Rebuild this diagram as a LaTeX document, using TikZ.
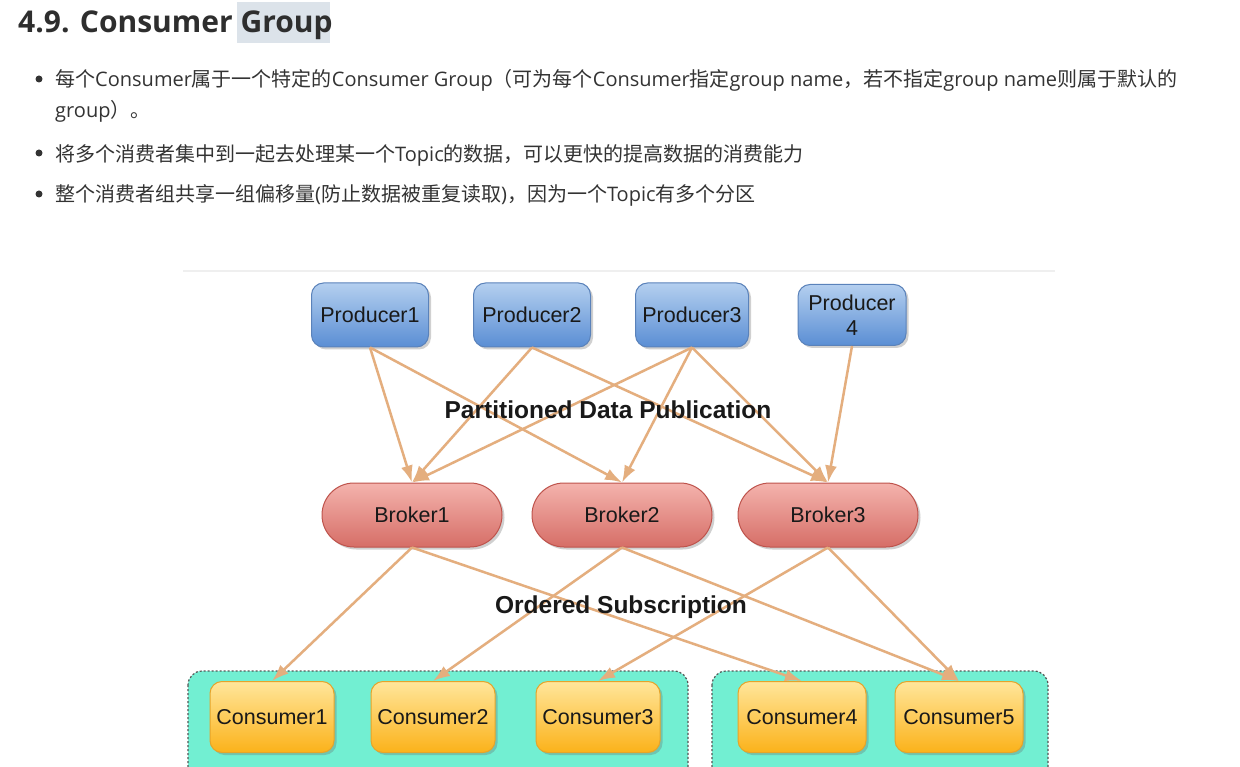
\documentclass[tikz,border=0pt]{standalone}
\usepackage{fontspec}
\setmainfont{Open Sans}
\newfontfamily\cjk{Noto Sans CJK SC}
\newfontfamily\arialf{Liberation Sans}
\usetikzlibrary{shadows,arrows.meta}
\definecolor{txt}{HTML}{333333}
\definecolor{titlec}{HTML}{2E2E2E}
\definecolor{hilite}{HTML}{DCE3EA}
\definecolor{rulec}{HTML}{EFEFEF}
\definecolor{prodtop}{HTML}{B4CFEF}
\definecolor{prodbot}{HTML}{5A8ED4}
\definecolor{prodborder}{HTML}{5A82BA}
\definecolor{brotop}{HTML}{F4B3AD}
\definecolor{brobot}{HTML}{D66E67}
\definecolor{broborder}{HTML}{BE534C}
\definecolor{contop}{HTML}{FFE69B}
\definecolor{conbot}{HTML}{FBB21A}
\definecolor{conborder}{HTML}{E5A42A}
\definecolor{groupc}{HTML}{72EFD2}
\definecolor{groupborder}{HTML}{555555}
\definecolor{arrowc}{HTML}{E4AE7E}
\begin{document}
\begin{tikzpicture}[x=1pt,y=-1pt,
  body/.style={anchor=base west, inner sep=0, font=\fontsize{20}{24}\selectfont, text=txt},
  titlestyle/.style={anchor=base west, inner sep=0, font=\fontsize{30}{36}\selectfont\bfseries, text=titlec},
  bulletdot/.style={circle, fill=txt, inner sep=0, minimum size=7},
  boxtext/.style={font=\arialf\fontsize{21.5}{25}\selectfont, text=black!90, align=center, inner sep=2},
  shadowed/.style={drop shadow={shadow xshift=2.5pt, shadow yshift=-2.5pt, opacity=.3, fill=black!60}},
  producer/.style={boxtext, shadowed, rounded corners=12, minimum width=117, minimum height=64, draw=prodborder, line width=1, top color=prodtop, bottom color=prodbot},
  broker/.style={boxtext, shadowed, rounded corners=32, minimum width=180, minimum height=64, draw=broborder, line width=1, top color=brotop, bottom color=brobot},
  consumer/.style={boxtext, shadowed, rounded corners=12, minimum width=124, minimum height=71, draw=conborder, line width=1, top color=contop, bottom color=conbot},
  grp/.style={fill=groupc, draw=groupborder, line width=1.2, dash pattern=on 2pt off 2pt, rounded corners=14},
  lbl/.style={font=\arialf\bfseries\fontsize{24.5}{28}\selectfont, text=black!90, inner sep=0},
  flow/.style={draw=arrowc, line width=2.5, -{Latex[length=17,width=12]}}
]
\useasboundingbox (0,0) rectangle (1240,767);
\fill[white] (0,0) rectangle (1240,767);

% header
\fill[hilite] (237,2) rectangle (330,43);
\node[titlestyle] (title) at (18,33) {4.9. Consumer Group};

\node[bulletdot] (d1) at (39,79) {};
\node[body] (l1) at (55,87) {{\cjk 每个}Consumer{\cjk 属于一个特定的}Consumer Group{\cjk （可为每个}Consumer{\cjk 指定}group name{\cjk ，若不指定}group name{\cjk 则属于默认的}};
\node[body] (l1b) at (55,118) {group{\cjk ）。}};
\node[bulletdot] (d2) at (39,153) {};
\node[body] (l2) at (55,162) {{\cjk 将多个消费者集中到一起去处理某一个}Topic{\cjk 的数据，可以更快的提高数据的消费能力}};
\node[bulletdot] (d3) at (39,194) {};
\node[body] (l3) at (55,202) {{\cjk 整个消费者组共享一组偏移量}({\cjk 防止数据被重复读取}){\cjk ，因为一个}Topic{\cjk 有多个分区}};

% diagram frame line
\draw[rulec, line width=2.5] (183,271) -- (1055,271);

% consumer groups
\draw[grp] (188,671) rectangle (688,800);
\draw[grp] (712,671) rectangle (1048,800);

% producers
\node[producer] (p1) at (370,315) {Producer1};
\node[producer] (p2) at (532,315) {Producer2};
\node[producer, minimum width=113] (p3) at (692,315) {Producer3};
\node[producer, minimum width=108, minimum height=61] (p4) at (852,315) {Producer\\4};

% brokers
\node[broker] (b1) at (412,515) {Broker1};
\node[broker] (b2) at (622,515) {Broker2};
\node[broker] (b3) at (828,515) {Broker3};

% consumers
\node[consumer] (c1) at (272,717) {Consumer1};
\node[consumer] (c2) at (433,717) {Consumer2};
\node[consumer] (c3) at (598,717) {Consumer3};
\node[consumer, minimum width=128] (c4) at (802,717) {Consumer4};
\node[consumer, minimum width=128] (c5) at (959,717) {Consumer5};

% producer -> broker
\draw[flow] (p1.south) -- (b1.north);
\draw[flow] (p1.south) -- (b2.north);
\draw[flow] (p2.south) -- (b1.north);
\draw[flow] (p2.south) -- (b3.north);
\draw[flow] (p3.south) -- (b1.north);
\draw[flow] (p3.south) -- (b2.north);
\draw[flow] (p3.south) -- (b3.north);
\draw[flow] (p4.south) -- (b3.north);

% broker -> consumer
\draw[flow] (b1.south) -- (c1.north);
\draw[flow] (b1.south) -- (c4.north);
\draw[flow] (b2.south) -- (c2.north);
\draw[flow] (b2.south) -- (c5.north);
\draw[flow] (b3.south) -- (c3.north);
\draw[flow] (b3.south) -- (c5.north);

% labels (on top of the connectors)
\node[lbl] (pub) at (608,410) {Partitioned Data Publication};
\node[lbl] (sub) at (621,607) {Ordered Subscription};
\end{tikzpicture}
\end{document}
